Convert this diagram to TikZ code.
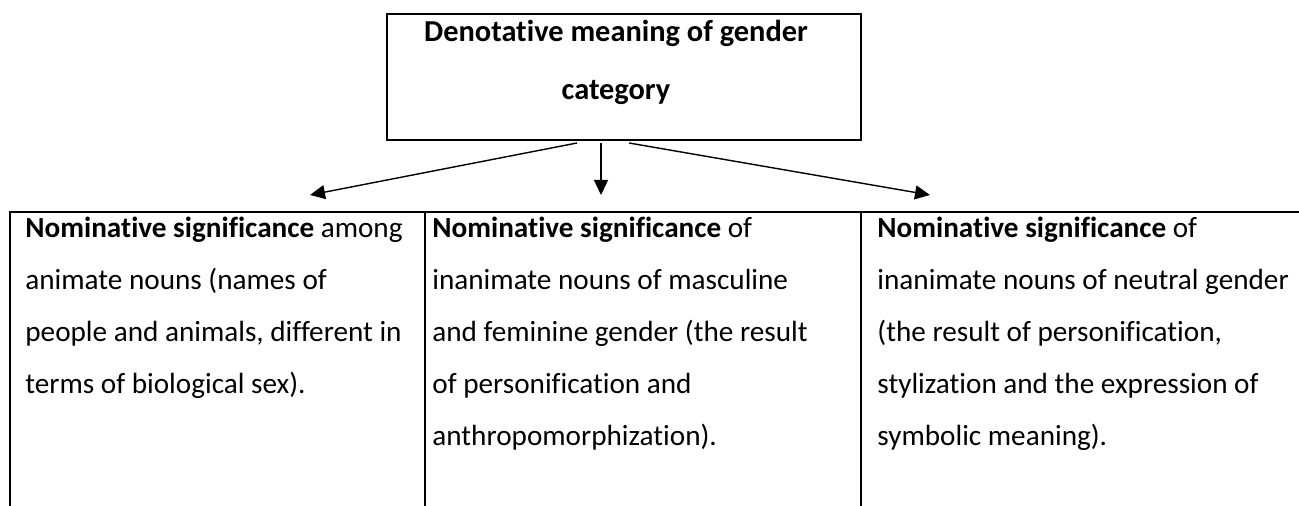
\documentclass[tikz,border=0pt]{standalone}
\usepackage{fontspec}
\setmainfont{Carlito}[Ligatures=NoCommon]
\usetikzlibrary{arrows.meta,positioning}
\tikzset{
  topbox/.style={draw,line width=1pt,minimum width=237pt,minimum height=63pt},
  toptext/.style={inner sep=0pt,align=center,font=\bfseries\fontsize{15.2}{29}\selectfont},
  cell/.style={anchor=base west,inner sep=0pt,align=left,font=\fontsize{14.6}{26}\selectfont},
  grid/.style={line width=1pt},
  arr/.style={line width=0.7pt,-{Triangle[length=7.5pt,width=7pt]}}
}
\begin{document}
\begin{tikzpicture}[x=0.5pt,y=-0.5pt]
\useasboundingbox (0,0) rectangle (1299,506);
\clip (0,0) rectangle (1299,506);
% top box
\node[topbox] (gender) at (624,77) {};
\node[toptext,anchor=base] (genderText) at (616,100) {Denotative meaning of gender\\category};
% arrow ends
\coordinate (tipA) at (310,195);
\coordinate (tipB) at (601,195);
\coordinate (tipC) at (930,195);
\draw[arr] ([shift={(-47,2)}]gender.south) -- (tipA);
\draw[arr] ([shift={(-23,2)}]gender.south) -- (tipB);
\draw[arr] ([shift={(5,2)}]gender.south) -- (tipC);
% table
\draw[grid] (10,530) |- (1320,212);
\draw[grid] (425,212) -- (425,530);
\draw[grid] (861,212) -- (861,530);
% base = last line, so 238 + (lines-1)*52
\node[cell] (animate) at (25,394) {\textbf{Nominative significance} among\\animate nouns (names of\\people and animals, different in\\terms of biological sex).};
\node[cell] (masculine) at (432,446) {\textbf{Nominative significance} of\\inanimate nouns of masculine\\and feminine gender (the result\\of personification and\\anthropomorphization).};
\node[cell] (neutral) at (877,446) {\textbf{Nominative significance} of\\inanimate nouns of neutral gender\\(the result of personification,\\stylization and the expression of\\symbolic meaning).};
\end{tikzpicture}
\end{document}
